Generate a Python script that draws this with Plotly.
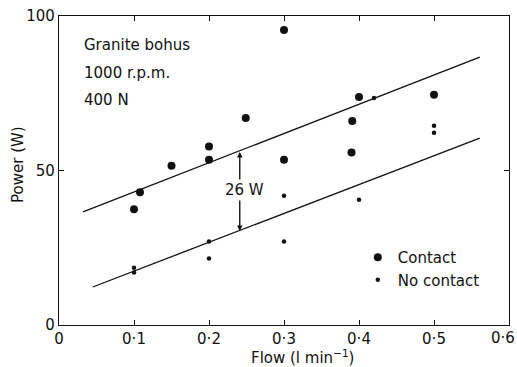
import plotly.graph_objects as go

# Data
contact_flow = [0.10, 0.108, 0.15, 0.20, 0.20, 0.249, 0.30, 0.30, 0.391, 0.39, 0.40, 0.50]
contact_power = [37.5, 43.0, 51.5, 57.8, 53.5, 67.0, 95.5, 53.5, 66.0, 55.8, 73.8, 74.5]

nocontact_flow = [0.10, 0.10, 0.20, 0.20, 0.30, 0.30, 0.40, 0.42, 0.50, 0.50]
nocontact_power = [18.5, 17.0, 27.0, 21.5, 41.8, 27.0, 40.5, 73.5, 64.5, 62.2]

upper_fit_flow = [0.032, 0.561]
upper_fit_power = [36.6, 86.7]
lower_fit_flow = [0.045, 0.561]
lower_fit_power = [12.3, 60.5]

arrow_flow = 0.241
arrow_top = 56.0
arrow_bottom = 30.4
gap_label = "26 W"

x_ticks = [0, 0.1, 0.2, 0.3, 0.4, 0.5, 0.6]
x_tick_labels = ["0", "0·1", "0·2", "0·3", "0·4", "0·5", "0·6"]
y_ticks = [0, 50, 100]
y_tick_labels = ["0", "50", "100"]

info_lines = ["Granite bohus", "1000 r.p.m.", "400 N"]
x_title = "Flow (l min<sup>−1</sup>)"
y_title = "Power (W)"

FONT = "DejaVu Sans"
FS = 15
INK = "#111111"

fig = go.Figure()

fig.add_trace(go.Scatter(x=upper_fit_flow, y=upper_fit_power, mode="lines",
                         line=dict(color=INK, width=1.3), showlegend=False, hoverinfo="skip"))
fig.add_trace(go.Scatter(x=lower_fit_flow, y=lower_fit_power, mode="lines",
                         line=dict(color=INK, width=1.3), showlegend=False, hoverinfo="skip"))

fig.add_trace(go.Scatter(x=contact_flow, y=contact_power, mode="markers", name="Contact",
                         marker=dict(color=INK, size=8)))
fig.add_trace(go.Scatter(x=nocontact_flow, y=nocontact_power, mode="markers", name="No contact",
                         marker=dict(color=INK, size=4.5)))

# double-headed arrow
fig.add_annotation(x=arrow_flow, y=arrow_top, ax=arrow_flow, ay=arrow_bottom,
                   xref="x", yref="y", axref="x", ayref="y", text="",
                   showarrow=True, arrowhead=2, arrowsize=1.1, arrowwidth=1, arrowcolor=INK)
fig.add_annotation(x=arrow_flow, y=arrow_bottom, ax=arrow_flow, ay=arrow_top,
                   xref="x", yref="y", axref="x", ayref="y", text="",
                   showarrow=True, arrowhead=2, arrowsize=1.1, arrowwidth=1, arrowcolor=INK)
fig.add_annotation(x=0.219, y=(arrow_top + arrow_bottom) / 2 + 0.5, xref="x", yref="y",
                   text=gap_label, showarrow=False, xanchor="left", yanchor="middle",
                   bgcolor="white", font=dict(family=FONT, size=FS, color=INK))

for i, line in enumerate(info_lines):
    fig.add_annotation(x=0.031, y=90.5 - i * 8.8, xref="x", yref="y", text=line,
                       showarrow=False, xanchor="left", yanchor="middle",
                       font=dict(family=FONT, size=FS, color=INK))

# axis titles
fig.add_annotation(x=0.54, y=-0.104, xref="paper", yref="paper", text=x_title,
                   showarrow=False, xanchor="center", yanchor="middle",
                   font=dict(family=FONT, size=FS, color=INK))
fig.add_annotation(x=-0.091, y=0.518, xref="paper", yref="paper", text=y_title,
                   showarrow=False, xanchor="center", yanchor="middle", textangle=-90,
                   font=dict(family=FONT, size=FS, color=INK))

# last x tick label sits against the right edge of the picture
fig.add_annotation(x=1.0178, y=0, xref="paper", yref="paper", text=x_tick_labels[-1],
                   showarrow=False, xanchor="right", yanchor="top", yshift=-2,
                   font=dict(family=FONT, size=FS, color=INK))
shown_x_labels = x_tick_labels[:-1] + [""]

axis_common = dict(showline=True, linecolor=INK, linewidth=1.2, mirror="ticks",
                   ticks="inside", ticklen=5, tickcolor=INK, tickwidth=1,
                   showgrid=False, zeroline=False, ticklabeloverflow="allow",
                   automargin=False,
                   tickfont=dict(family=FONT, size=FS, color=INK))

fig.update_xaxes(range=[0, 0.6], tickvals=x_ticks, ticktext=shown_x_labels, **axis_common)
fig.update_yaxes(range=[0, 100], tickvals=y_ticks, ticktext=y_tick_labels, **axis_common)

fig.update_layout(
    width=517, height=367,
    margin=dict(l=59, r=8, t=16, b=42),
    paper_bgcolor="white", plot_bgcolor="white",
    showlegend=True,
    legend=dict(x=0.664, y=0.272, xanchor="left", yanchor="top",
                bgcolor="rgba(0,0,0,0)", font=dict(family=FONT, size=FS, color=INK),
                itemwidth=30, tracegroupgap=0),
)

fig.write_html("out.html", config={"displayModeBar": False},
               post_script="document.body.style.margin='0';document.body.style.overflow='hidden';")
